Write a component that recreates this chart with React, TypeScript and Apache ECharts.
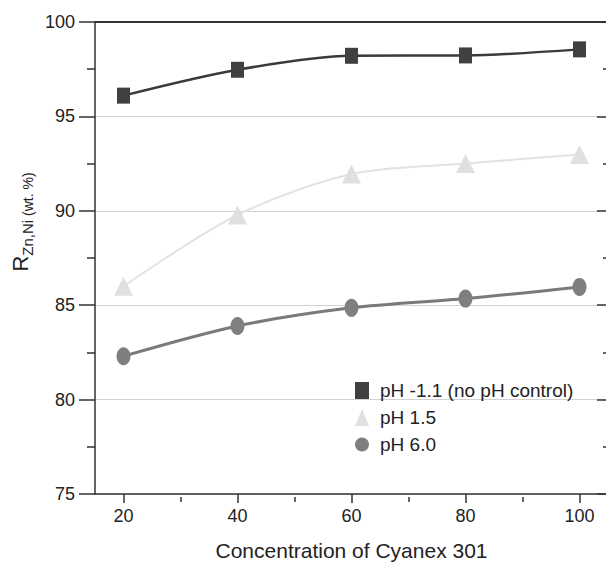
import React, { useEffect, useRef } from "react";
import * as echarts from "echarts";

const concentrations = [20, 40, 60, 80, 100];
const phControl = [96.1, 97.47, 98.21, 98.23, 98.55];
const ph15 = [86.0, 89.78, 91.95, 92.5, 92.98];
const ph60 = [82.3, 83.9, 84.86, 85.35, 85.97];
const seriesNames = ["pH -1.1 (no pH control)", "pH 1.5", "pH 6.0"];
const xMajorTicks = [20, 40, 60, 80, 100];
const xMinorTicks = [30, 50, 70, 90];

const FONT = "'Liberation Sans', Arial, Helvetica, sans-serif";
const AXIS = "#333333";

export default function App() {
  const ref = useRef<HTMLDivElement>(null);

  useEffect(() => {
    if (!ref.current) return;
    const chart = echarts.init(ref.current, undefined, { renderer: "svg" });
    const toPairs = (vals: number[]) => concentrations.map((c, i) => [c, vals[i]]);

    const mkSeries = (name: string, vals: number[], symbol: string, size: any, color: string, lineColor: string, width: number) => ({
      type: "line",
      name,
      xAxisIndex: 0,
      yAxisIndex: 0,
      data: toPairs(vals),
      smooth: 0.3,
      symbol,
      symbolSize: size,
      itemStyle: { color },
      lineStyle: { color: lineColor, width },
      z: 3,
    });

    const gridBox = { left: 95, top: 22, right: 4, bottom: 69 };

    chart.setOption({
      animation: false,
      backgroundColor: "#ffffff",
      textStyle: { fontFamily: FONT },
      grid: [{ ...gridBox }, { ...gridBox }],
      legend: {
        orient: "vertical",
        left: 350,
        top: 376,
        itemWidth: 14,
        itemHeight: 17,
        itemGap: 8,
        symbolKeepAspect: false,
        textStyle: { fontSize: 19, color: "#222", fontFamily: FONT, padding: [0, 0, 0, 6] },
        data: [
          { name: seriesNames[0], icon: "rect" },
          { name: seriesNames[1], icon: "triangle" },
          { name: seriesNames[2], icon: "circle" },
        ],
      },
      xAxis: [
        {
          gridIndex: 0,
          type: "value",
          min: 15,
          max: 105,
          position: "bottom",
          axisLine: { show: true, lineStyle: { color: AXIS, width: 1.5 } },
          axisTick: { show: true, customValues: xMajorTicks, length: 9, lineStyle: { color: AXIS, width: 1.5 } },
          axisLabel: { customValues: xMajorTicks, fontSize: 18, color: "#222", margin: 13, fontFamily: FONT },
          splitLine: { show: false },
          name: "Concentration of Cyanex 301",
          nameLocation: "middle",
          nameGap: 46,
          nameTextStyle: { fontSize: 21, color: "#222", fontFamily: FONT },
        },
        {
          gridIndex: 1,
          type: "value",
          min: 15,
          max: 105,
          position: "bottom",
          axisLine: { show: false },
          axisTick: { show: true, customValues: xMinorTicks, length: 5, lineStyle: { color: AXIS, width: 1.5 } },
          axisLabel: { show: false },
          splitLine: { show: false },
        },
        {
          gridIndex: 1,
          type: "value",
          min: 15,
          max: 105,
          position: "top",
          axisLine: { show: true, lineStyle: { color: AXIS, width: 2 } },
          axisTick: { show: false },
          axisLabel: { show: false },
          splitLine: { show: false },
        },
      ],
      yAxis: [
        {
          gridIndex: 0,
          type: "value",
          min: 75,
          max: 100,
          interval: 5,
          position: "left",
          axisLine: { show: true, lineStyle: { color: AXIS, width: 1.5 } },
          axisTick: { show: true, length: 16, lineStyle: { color: AXIS, width: 1.5 } },
          minorTick: { show: true, splitNumber: 2, length: 8, lineStyle: { color: AXIS, width: 1.5 } },
          axisLabel: { fontSize: 18, color: "#222", margin: 20, fontFamily: FONT },
          splitLine: { show: true, lineStyle: { color: "#d2d2d2", width: 1 } },
        },
        {
          gridIndex: 0,
          type: "value",
          min: 75,
          max: 100,
          interval: 5,
          position: "right",
          axisLine: { show: false },
          axisTick: { show: true, inside: true, length: 11, lineStyle: { color: AXIS, width: 1.5 } },
          minorTick: { show: true, splitNumber: 2, length: 5, lineStyle: { color: AXIS, width: 1.5 } },
          axisLabel: { show: false },
          splitLine: { show: false },
        },
        {
          gridIndex: 1,
          type: "value",
          min: 75,
          max: 100,
          show: false,
        },
      ],
      graphic: [
        {
          type: "text",
          x: 22,
          y: 222,
          rotation: Math.PI / 2,
          style: {
            text: "{a|R}{b|Zn,Ni}{c| (wt. %)}",
            align: "center",
            verticalAlign: "middle",
            fill: "#222",
            fontFamily: FONT,
            rich: {
              a: { fontSize: 22, lineHeight: 26, fill: "#222", fontFamily: FONT, verticalAlign: "top" },
              b: { fontSize: 15, lineHeight: 14, fill: "#222", fontFamily: FONT, verticalAlign: "bottom" },
              c: { fontSize: 14, lineHeight: 14, fill: "#222", fontFamily: FONT, verticalAlign: "bottom" },
            },
          },
        },
      ],
      series: [
        mkSeries(seriesNames[0], phControl, "rect", [13, 16], "#404040", "#3a3a3a", 2.5),
        mkSeries(seriesNames[1], ph15, "triangle", [19, 19], "#e0e0e0", "#e2e2e2", 2),
        mkSeries(seriesNames[2], ph60, "circle", [14, 18], "#7f7f7f", "#7a7a7a", 3),
      ],
    });

    return () => chart.dispose();
  }, []);

  return (
    <div style={{ position: "fixed", left: 0, top: 0, width: 606, height: 566, overflow: "hidden", background: "#fff" }}>
      <div ref={ref} style={{ width: 612, height: 566 }} />
    </div>
  );
}
